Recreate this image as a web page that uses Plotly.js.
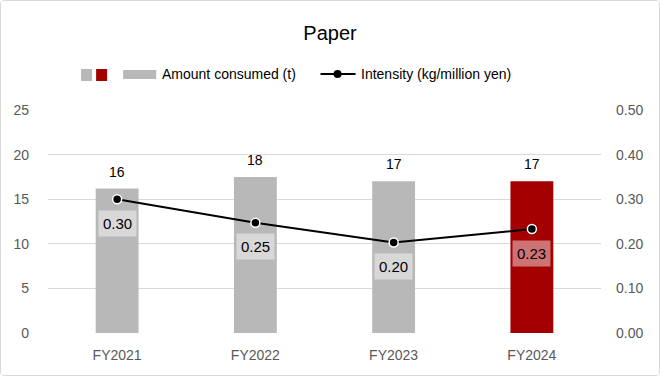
<!DOCTYPE html>
<html><head><meta charset="utf-8">
<script src="https://cdn.plot.ly/plotly-3.0.1.min.js"></script>
<style>html,body{margin:0;padding:0;background:#fff;}
#c{width:658px;height:374px;border:1px solid #d9d9d9;border-radius:4px;overflow:hidden;}</style>
</head><body><div id="c"></div>
<script>
const categories = ["FY2021","FY2022","FY2023","FY2024"];
const amountConsumed = [16.2, 17.5, 17.0, 17.0];
const amountLabels = ["16","18","17","17"];
const intensity = [0.30, 0.247, 0.203, 0.233];
const intensityLabels = ["0.30","0.25","0.20","0.23"];
const barColors = ["#b8b8b8","#b8b8b8","#b8b8b8","#a50000"];
const labelBg = ["rgba(255,255,255,0.45)","rgba(255,255,255,0.45)","rgba(255,255,255,0.45)","rgba(255,255,255,0.45)"];

const FONT = "Liberation Sans, Arial, sans-serif";
const traces = [
  {type:"bar", x:categories, y:amountConsumed, marker:{color:barColors}, width:0.31,
   name:"Amount consumed (t)", yaxis:"y", hoverinfo:"x+y"},
  {type:"scatter", mode:"lines+markers", x:categories, y:intensity, yaxis:"y2",
   line:{color:"#000", width:2}, marker:{color:"#000", size:9, line:{color:"#fff", width:1.5}},
   name:"Intensity (kg/million yen)"}
];
const annotations = [];
categories.forEach((c,i)=>{
  annotations.push({x:c, y:amountConsumed[i], xref:"x", yref:"y", text:amountLabels[i], showarrow:false,
    yshift:17, font:{family:FONT, size:14, color:"#000"}});
  annotations.push({x:c, y:intensity[i], xref:"x", yref:"y2", text:intensityLabels[i], showarrow:false,
    yshift:-24, bgcolor:labelBg[i], borderpad:4, font:{family:FONT, size:15, color:"#000"}});
});
annotations.push({xref:"paper", yref:"paper", x:0.2029, y:1.161, xanchor:"left", yanchor:"middle",
  text:"Amount consumed (t)", showarrow:false, font:{family:FONT, size:14, color:"#000"}});
annotations.push({xref:"paper", yref:"paper", x:0.5616, y:1.161, xanchor:"left", yanchor:"middle",
  text:"Intensity (kg/million yen)", showarrow:false, font:{family:FONT, size:14, color:"#000"}});

const shapes = [
  {type:"rect", xref:"paper", yref:"paper", x0:0.0598, x1:0.0797, y0:1.130, y1:1.184, fillcolor:"#b8b8b8", line:{width:0}},
  {type:"rect", xref:"paper", yref:"paper", x0:0.087, x1:0.1069, y0:1.130, y1:1.184, fillcolor:"#a50000", line:{width:0}},
  {type:"rect", xref:"paper", yref:"paper", x0:0.1359, x1:0.1957, y0:1.139, y1:1.179, fillcolor:"#b8b8b8", line:{width:0}},
  {type:"line", xref:"paper", yref:"paper", x0:0.4928, x1:0.5562, y0:1.161, y1:1.161, line:{color:"#000", width:2}},
  {type:"circle", xref:"paper", yref:"paper", xsizemode:"pixel", ysizemode:"pixel", xanchor:0.5236, yanchor:1.161,
   x0:-4, x1:4, y0:-4, y1:4, fillcolor:"#000", line:{width:0}}
];

const layout = {
  width:658, height:374,
  margin:{l:47, r:58, t:109, b:42, pad:0},
  paper_bgcolor:"#fff", plot_bgcolor:"#fff",
  title:{text:"Paper", x:0.5, xanchor:"center", y:0.915, yanchor:"middle", font:{family:FONT, size:20, color:"#000"}},
  showlegend:false,
  bargap:0.69,
  xaxis:{type:"category", showgrid:false, zeroline:false, showline:false, ticks:"",
    tickfont:{family:FONT, size:14, color:"#595959"}, ticklabelstandoff:12},
  yaxis:{range:[0,25], dtick:5, tick0:0, gridcolor:"#d9d9d9", gridwidth:1, zeroline:false, showline:false,
    tickfont:{family:FONT, size:14, color:"#595959"}, ticklabelstandoff:18},
  yaxis2:{range:[0,0.5], dtick:0.1, tick0:0, overlaying:"y", side:"right", showgrid:false, zeroline:false,
    showline:false, tickformat:".2f", tickfont:{family:FONT, size:14, color:"#595959"}, ticklabelstandoff:14},
  annotations:annotations, shapes:shapes,
  font:{family:FONT}
};
Plotly.newPlot("c", traces, layout, {displayModeBar:false, staticPlot:true});
</script></body></html>
